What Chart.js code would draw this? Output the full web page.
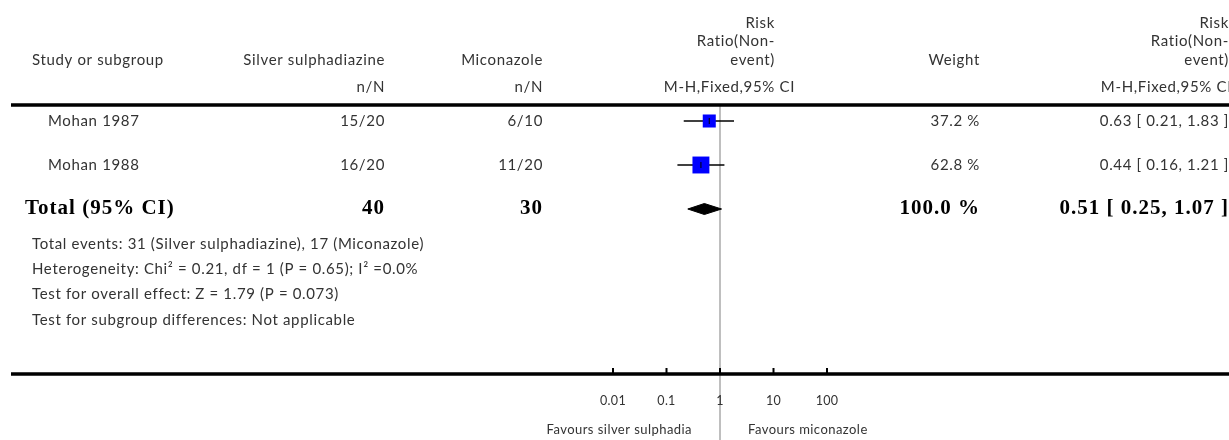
<!DOCTYPE html>
<html lang="en">
<head>
<meta charset="UTF-8">
<title>Forest plot - Silver sulphadiazine vs Miconazole</title>
<script src="https://cdn.jsdelivr.net/npm/chart.js"></script>
<style>
  html, body { margin: 0; padding: 0; background: #fff; overflow: hidden; }
  #wrap { width: 1229px; height: 440px; position: relative; overflow: hidden; }
  #chart { display: block; }
</style>
</head>
<body>
<div id="wrap"><canvas id="chart"></canvas></div>
<script>
// data
const studies = ['Mohan 1987', 'Mohan 1988'];
const silverN = ['15/20', '16/20'];
const micoN = ['6/10', '11/20'];
const weights = [37.2, 62.8];
const rr = [0.63, 0.44];
const rrLow = [0.21, 0.16];
const rrHigh = [1.83, 1.21];

const totalSilver = 40;
const totalMico = 30;
const totalWeight = 100.0;
const totalRR = 0.51;
const totalLow = 0.25;
const totalHigh = 1.07;

const tickValues = [0.01, 0.1, 1, 10, 100];
const tickLabels = ['0.01', '0.1', '1', '10', '100'];

const footnotes = [
    'Total events: 31 (Silver sulphadiazine), 17 (Miconazole)',
    'Heterogeneity: Chi\u00b2 = 0.21, df = 1 (P = 0.65); I\u00b2 =0.0%',
    'Test for overall effect: Z = 1.79 (P = 0.073)',
    'Test for subgroup differences: Not applicable'
];

const SANS = 'Lato, "Open Sans", sans-serif';
const SERIF = '"Liberation Serif", "DejaVu Serif", serif';
const TEXT = '#333';
const totalRow = studies.length;

function ci(v, lo, hi) {
    return v.toFixed(2) + ' [ ' + lo.toFixed(2) + ', ' + hi.toFixed(2) + ' ]';
}

// confidence interval lines, one dataset per study
const ciSets = studies.map((s, i) => ({
    type: 'line',
    data: [{x: rrLow[i], y: i}, {x: rrHigh[i], y: i}],
    borderColor: '#000',
    borderWidth: 1.5,
    pointRadius: 0,
    order: 3
}));

const boxSet = {
    type: 'scatter',
    data: rr.map((v, i) => ({x: v, y: i})),
    pointStyle: 'rect',
    pointRadius: weights.map(w => 1.51 * Math.sqrt(w)),
    backgroundColor: '#0000ff',
    borderColor: '#0000ff',
    borderWidth: 0,
    order: 2
};

const markSet = {
    type: 'scatter',
    data: rr.map((v, i) => ({x: v, y: i})),
    pointStyle: 'line',
    rotation: 90,
    pointRadius: 3,
    borderColor: '#000',
    borderWidth: 1,
    order: 1
};

const dh = 0.125;
const diamondSet = {
    type: 'line',
    data: [
        {x: totalLow, y: totalRow},
        {x: totalRR, y: totalRow - dh},
        {x: totalHigh, y: totalRow},
        {x: totalRR, y: totalRow + dh},
        {x: totalLow, y: totalRow}
    ],
    borderColor: '#000',
    borderWidth: 1,
    backgroundColor: '#000',
    fill: 'shape',
    pointRadius: 0,
    tension: 0,
    order: 1
};

function txt(ctx, s, x, y, align, font, color, spacing) {
    ctx.font = font;
    ctx.fillStyle = color || TEXT;
    ctx.textAlign = align;
    ctx.textBaseline = 'middle';
    ctx.letterSpacing = (spacing === undefined ? 0.65 : spacing) + 'px';
    ctx.fillText(s, x, y);
}

const forestPlugin = {
    id: 'forest',
    beforeDatasetsDraw(chart) {
        const ctx = chart.ctx;
        const xs = chart.scales.x;
        const a = chart.chartArea;
        const x1 = xs.getPixelForValue(1);
        ctx.save();
        ctx.strokeStyle = '#aaa';
        ctx.lineWidth = 1.5;
        ctx.beginPath();
        ctx.moveTo(x1, a.top);
        ctx.lineTo(x1, chart.height);
        ctx.stroke();
        ctx.restore();
    },
    afterDraw(chart) {
        const ctx = chart.ctx;
        const xs = chart.scales.x;
        const ys = chart.scales.y;
        const a = chart.chartArea;
        ctx.save();

        // heavy rules
        ctx.strokeStyle = '#000';
        ctx.lineWidth = 3.5;
        ctx.beginPath();
        ctx.moveTo(a.left, a.top);
        ctx.lineTo(a.right, a.top);
        ctx.moveTo(a.left, a.bottom);
        ctx.lineTo(a.right, a.bottom);
        ctx.stroke();

        // axis ticks and labels
        ctx.lineWidth = 2;
        const af = '12.5px ' + SANS;
        tickValues.forEach((v, i) => {
            const px = xs.getPixelForValue(v);
            ctx.beginPath();
            ctx.moveTo(px, a.bottom - 6);
            ctx.lineTo(px, a.bottom);
            ctx.stroke();
            txt(ctx, tickLabels[i], px, a.bottom + 27, 'center', af, TEXT, 0.3);
        });
        const x1 = xs.getPixelForValue(1);
        txt(ctx, 'Favours silver sulphadia', x1 - 28, a.bottom + 56, 'right', '13px ' + SANS, TEXT, 0.45);
        txt(ctx, 'Favours miconazole', x1 + 28, a.bottom + 56, 'left', '13px ' + SANS, TEXT, 0.45);

        // header
        const hf = '15px ' + SANS;
        txt(ctx, 'Study or subgroup', 32, 60, 'left', hf);
        txt(ctx, 'Silver sulphadiazine', 385, 60, 'right', hf);
        txt(ctx, 'n/N', 385, 87, 'right', hf);
        txt(ctx, 'Miconazole', 543, 60, 'right', hf);
        txt(ctx, 'n/N', 543, 87, 'right', hf);
        ['Risk', 'Ratio(Non-', 'event)'].forEach((s, k) => {
            txt(ctx, s, 775, 23 + k * 18.5, 'right', hf);
            txt(ctx, s, 1229, 23 + k * 18.5, 'right', hf);
        });
        txt(ctx, 'M-H,Fixed,95% CI', 795, 87, 'right', hf);
        txt(ctx, 'Weight', 980, 60, 'right', hf);
        txt(ctx, 'M-H,Fixed,95% CI', 1232, 87, 'right', hf);

        // study rows
        studies.forEach((s, i) => {
            const y = ys.getPixelForValue(i);
            txt(ctx, s, 48, y, 'left', hf);
            txt(ctx, silverN[i], 385, y, 'right', hf);
            txt(ctx, micoN[i], 543, y, 'right', hf);
            txt(ctx, weights[i].toFixed(1) + ' %', 980, y, 'right', hf);
            txt(ctx, ci(rr[i], rrLow[i], rrHigh[i]), 1229, y, 'right', hf);
        });

        // total row
        const ty = ys.getPixelForValue(totalRow);
        const bf = 'bold 21px ' + SERIF;
        txt(ctx, 'Total (95% CI)', 25, ty, 'left', bf, '#000', 1);
        txt(ctx, String(totalSilver), 385, ty, 'right', bf, '#000', 1);
        txt(ctx, String(totalMico), 543, ty, 'right', bf, '#000', 1);
        txt(ctx, totalWeight.toFixed(1) + ' %', 980, ty, 'right', bf, '#000', 1);
        txt(ctx, ci(totalRR, totalLow, totalHigh), 1229, ty, 'right', bf, '#000', 1);

        footnotes.forEach((s, k) => {
            txt(ctx, s, 32, ty + 35 + k * 25.3, 'left', hf);
        });
        ctx.restore();
    }
};

// x scale: 1 sits at x=720, ~53.5 px per decade, spanning the full rule width
const decadePx = 53.5;
const left = 11, right = 1229, oneAt = 720;

new Chart(document.getElementById('chart'), {
    data: { datasets: [...ciSets, boxSet, markSet, diamondSet] },
    options: {
        responsive: true,
        maintainAspectRatio: false,
        animation: false,
        layout: { autoPadding: false, padding: { top: 105, bottom: 66, left: left, right: 0 } },
        plugins: { legend: { display: false }, tooltip: { enabled: false } },
        scales: {
            x: {
                type: 'logarithmic',
                display: false,
                min: Math.pow(10, -(oneAt - left) / decadePx),
                max: Math.pow(10, (right - oneAt) / decadePx)
            },
            y: {
                type: 'linear',
                display: false,
                reverse: true,
                min: -16 / 44,
                max: (374 - 121) / 44
            }
        }
    },
    plugins: [forestPlugin]
});
</script>
</body>
</html>
